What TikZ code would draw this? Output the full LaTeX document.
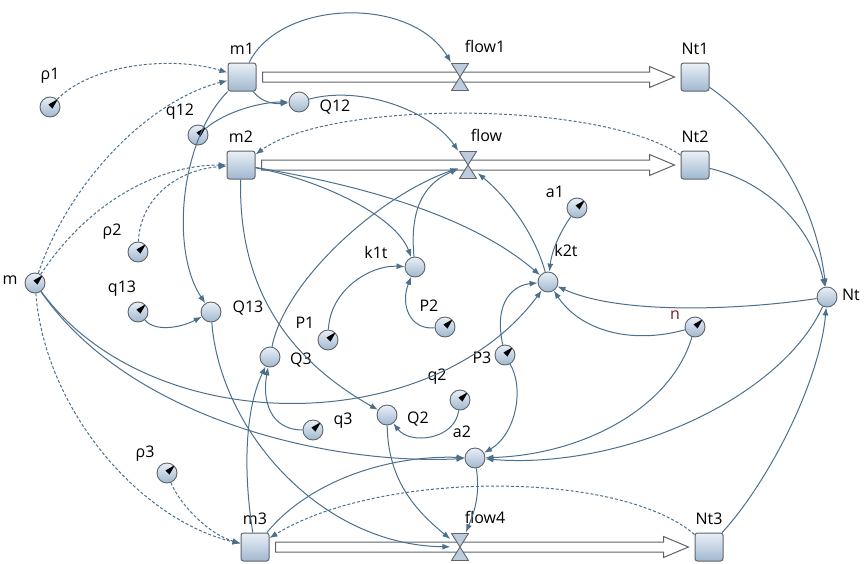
\documentclass[tikz,border=0pt]{standalone}
\usepackage{fontspec}
\setmainfont{Open Sans}
\usetikzlibrary{calc, arrows.meta, positioning}

\definecolor{linkc}{RGB}{76,112,140}
\definecolor{edgec}{RGB}{95,100,108}
\definecolor{filltop}{RGB}{234,240,247}
\definecolor{fillbot}{RGB}{160,184,207}
\definecolor{nred}{RGB}{120,30,40}

\tikzset{
    stock/.style={rectangle, rounded corners=2.5pt, minimum size=28pt, inner sep=0pt,
        draw=edgec, line width=1pt, top color=filltop, bottom color=fillbot},
    aux/.style={circle, minimum size=20pt, inner sep=0pt,
        draw=edgec, line width=0.9pt, top color=filltop, bottom color=fillbot},
    constant/.style={aux, path picture={
        \fill[black] ($(path picture bounding box.center)+(2.5pt,-1.5pt)$)
            -- ($(path picture bounding box.center)+(8pt,8pt)$)
            -- ($(path picture bounding box.center)+(-1.5pt,2.5pt)$) -- cycle;}},
    valve/.style={rectangle, minimum width=19pt, minimum height=29pt, inner sep=0pt, path picture={
        \filldraw[fill=fillbot!70!white, draw=edgec, line width=0.9pt, line join=round]
            ($(path picture bounding box.north west)+(1pt,-1pt)$)
            -- ($(path picture bounding box.north east)+(-1pt,-1pt)$)
            -- (path picture bounding box.center) -- cycle
            ($(path picture bounding box.south west)+(1pt,1pt)$)
            -- ($(path picture bounding box.south east)+(-1pt,1pt)$)
            -- (path picture bounding box.center) -- cycle;}},
    pipe/.style={fill=white, draw=edgec, line width=1pt, line join=miter},
    link/.style={draw=linkc, line width=1pt, -{Latex[length=8pt,width=6pt]}},
    dashlink/.style={link, dash pattern=on 3pt off 2pt},
    lbl/.style={inner sep=0pt, font=\fontsize{16}{18}\selectfont}
}

\begin{document}
\begin{tikzpicture}[x=1pt, y=-1pt]
    \useasboundingbox (0,0) rectangle (868,563);
    % stocks
    \node[stock] (m1) at (242,77) {};
    \node[stock] (m2) at (241,165) {};
    \node[stock] (m3) at (255,547) {};
    \node[stock] (Nt1) at (695,77) {};
    \node[stock] (Nt2) at (695,165) {};
    \node[stock] (Nt3) at (709,547) {};
    % pipes
    \foreach \s/\t in {m1/Nt1, m2/Nt2, m3/Nt3}
        \filldraw[pipe] ($(\s.east)+(6pt,5pt)$) -- ($(\t.west)+(-31pt,5pt)$) -- ++(0pt,5.5pt)
            -- ($(\t.west)+(-6pt,0pt)$) -- ($(\t.west)+(-31pt,-10.5pt)$) -- ++(0pt,5.5pt)
            -- ($(\s.east)+(6pt,-5pt)$) -- cycle;
    % valves
    \node[valve] (flow1) at (460,77) {};
    \node[valve] (flow) at (468,165) {};
    \node[valve] (flow4) at (460,547) {};
    % auxiliaries
    \node[aux] (Q12) at (299,102) {};
    \node[aux] (k1t) at (415,267) {};
    \node[aux] (k2t) at (548,282) {};
    \node[aux] (Q13) at (211,312) {};
    \node[aux] (Q3) at (270,357) {};
    \node[aux] (Q2) at (387,415) {};
    \node[aux] (a2) at (475,458) {};
    \node[aux] (Nt) at (827,297) {};
    % constants
    \node[constant] (rho1) at (50,107) {};
    \node[constant] (q12) at (198,135) {};
    \node[constant] (rho2) at (138,252) {};
    \node[constant] (m) at (35,283) {};
    \node[constant] (q13) at (138,312) {};
    \node[constant] (P1) at (328,340) {};
    \node[constant] (P2) at (445,327) {};
    \node[constant] (a1) at (577,208) {};
    \node[constant] (n) at (695,327) {};
    \node[constant] (P3) at (505,355) {};
    \node[constant] (q2) at (460,400) {};
    \node[constant] (q3) at (313,430) {};
    \node[constant] (rho3) at (167,473) {};
    % labels
    \node[lbl, above=8pt of m1] (m1l) {m1};
    \node[lbl, above=8pt of m2] (m2l) {m2};
    \node[lbl, above=8pt of m3] (m3l) {m3};
    \node[lbl, above=8pt of Nt1] (Nt1l) {Nt1};
    \node[lbl, above=8pt of Nt2] (Nt2l) {Nt2};
    \node[lbl, above=8pt of Nt3] (Nt3l) {Nt3};
    \node[lbl, above right=9pt and -5pt of flow1] (flow1l) {flow1};
    \node[lbl, above right=8pt and -7pt of flow] (flowl) {flow};
    \node[lbl, above right=8pt and -5pt of flow4] (flow4l) {flow4};
    \node[lbl] (Q12l) at (335,107) {Q12};
    \node[lbl] (k1tl) at (376,252) {k1t};
    \node[lbl] (k2tl) at (566,250) {k2t};
    \node[lbl] (Q13l) at (248,308) {Q13};
    \node[lbl] (Q3l) at (301,360) {Q3};
    \node[lbl] (Q2l) at (418,419) {Q2};
    \node[lbl] (a2l) at (462,432) {a2};
    \node[lbl] (Ntl) at (851,295) {Nt};
    \node[lbl] (rho1l) at (50,76) {ρ1};
    \node[lbl] (q12l) at (180,112) {q12};
    \node[lbl] (rho2l) at (112,232) {ρ2};
    \node[lbl] (ml) at (10,280) {m};
    \node[lbl] (q13l) at (122,289) {q13};
    \node[lbl] (P1l) at (305,323) {P1};
    \node[lbl] (P2l) at (429,306) {P2};
    \node[lbl] (a1l) at (555,192) {a1};
    \node[lbl, text=nred] (nl) at (675,315) {n};
    \node[lbl] (P3l) at (482,358) {P3};
    \node[lbl] (q2l) at (437,377) {q2};
    \node[lbl] (q3l) at (343,421) {q3};
    \node[lbl] (rho3l) at (145,454) {ρ3};
    % solid links
    \draw[link] (m1) .. controls (280,0) and (410,-5) .. (flow1);
    \draw[link] (m1) .. controls (262,103) and (275,104) .. (Q12);
    \draw[link] (q12) .. controls (225,112) and (260,102) .. (Q12);
    \draw[link] (Q12) .. controls (360,85) and (430,110) .. (flow);
    \draw[link] (m1) .. controls (180,140) and (170,250) .. (Q13);
    \draw[link] (q13) .. controls (155,332) and (180,328) .. (Q13);
    \draw[link] (m2) .. controls (320,180) and (395,215) .. (k1t);
    \draw[link] (m2) .. controls (360,185) and (470,215) .. (k2t);
    \draw[link] (m2) .. controls (238,290) and (290,360) .. (Q2);
    \draw[link] (k1t) .. controls (410,215) and (420,185) .. (flow);
    \draw[link] (Q3) .. controls (285,280) and (380,195) .. (flow);
    \draw[link] (k2t) .. controls (535,235) and (510,200) .. (flow);
    \draw[link] (a1) .. controls (560,232) and (552,250) .. (k2t);
    \draw[link] (P1) .. controls (330,290) and (370,265) .. (k1t);
    \draw[link] (P2) .. controls (410,330) and (400,305) .. (k1t);
    \draw[link] (P3) .. controls (493,300) and (515,285) .. (k2t);
    \draw[link] (m) .. controls (150,440) and (430,440) .. (k2t);
    \draw[link] (m) .. controls (130,420) and (330,465) .. (a2);
    \draw[link] (Nt) .. controls (740,310) and (620,315) .. (k2t);
    \draw[link] (n) .. controls (630,345) and (580,330) .. (k2t);
    \draw[link] (n) .. controls (670,410) and (580,455) .. (a2);
    \draw[link] (Nt) .. controls (780,400) and (620,470) .. (a2);
    \draw[link] (P3) .. controls (525,390) and (515,435) .. (a2);
    \draw[link] (q2) .. controls (455,440) and (410,445) .. (Q2);
    \draw[link] (Nt1) .. controls (770,130) and (815,200) .. (Nt);
    \draw[link] (Nt2) .. controls (760,180) and (810,220) .. (Nt);
    \draw[link] (Nt3) .. controls (770,480) and (820,380) .. (Nt);
    \draw[link] (a2) .. controls (480,495) and (475,510) .. (flow4);
    \draw[link] (Q2) .. controls (388,480) and (415,510) .. (flow4);
    \draw[link] (Q13) .. controls (220,430) and (320,545) .. (flow4);
    \draw[link] (m3) .. controls (243,470) and (245,410) .. (Q3);
    \draw[link] (q3) .. controls (270,430) and (262,400) .. (Q3);
    \draw[link] (m3) .. controls (310,480) and (390,455) .. (a2);
    % dashed links
    \draw[dashlink] (rho1) .. controls (90,65) and (170,55) .. (m1);
    \draw[dashlink] (m) .. controls (70,180) and (150,100) .. (m1);
    \draw[dashlink] (m) .. controls (90,200) and (160,165) .. (m2);
    \draw[dashlink] (rho2) .. controls (140,200) and (175,170) .. (m2);
    \draw[dashlink] (Nt2) .. controls (600,100) and (330,100) .. (m2);
    \draw[dashlink] (m) .. controls (45,410) and (140,520) .. (m3);
    \draw[dashlink] (rho3) .. controls (180,505) and (210,535) .. (m3);
    \draw[dashlink] (Nt3) .. controls (620,470) and (380,470) .. (m3);
\end{tikzpicture}
\end{document}
